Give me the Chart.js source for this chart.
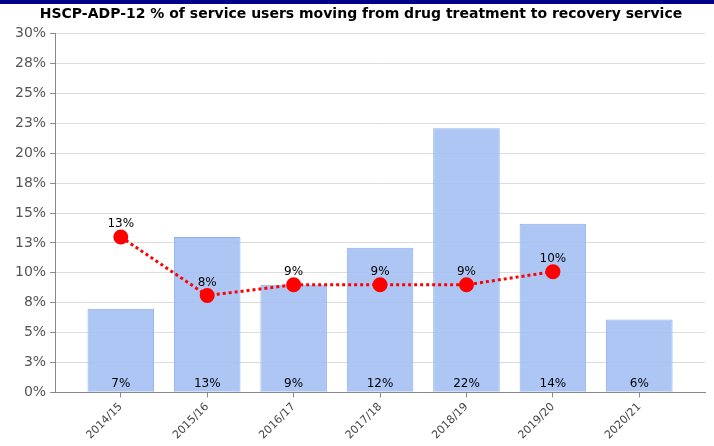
<!DOCTYPE html>
<html>
<head>
<meta charset="utf-8">
<script src="https://cdn.jsdelivr.net/npm/chart.js@4"></script>
<style>
    html, body { margin: 0; padding: 0; background: #fff; }
    #wrap { width: 714px; height: 446px; position: relative; border-top: 4px solid #00008b; box-sizing: border-box; }
</style>
</head>
<body>
<div id="wrap"><canvas id="canvas" width="714" height="442"></canvas></div>
<script>
// dane
const chartTitle = 'HSCP-ADP-12 % of service users moving from drug treatment to recovery service';
const years = ['2014/15', '2015/16', '2016/17', '2017/18', '2018/19', '2019/20', '2020/21'];
const barValues = [7, 13, 9, 12.1, 22.1, 14.1, 6.1];
const barLabels = ['7%', '13%', '9%', '12%', '22%', '14%', '6%'];
const lineValues = [13, 8.1, 9, 9, 9, 10.1, null];
const lineLabels = ['13%', '8%', '9%', '9%', '9%', '10%', ''];

const font = "'DejaVu Sans', Verdana, sans-serif";

// etykiety wartosci rysowane recznie (brak pluginu datalabels)
const valueLabels = {
    id: 'valueLabels',
    afterDatasetsDraw(chart) {
        let ctx = chart.ctx;
        let yScale = chart.scales.y;
        ctx.save();
        ctx.font = '12px ' + font;
        ctx.fillStyle = '#000';
        ctx.textAlign = 'center';
        ctx.textBaseline = 'bottom';
        chart.getDatasetMeta(0).data.forEach(function(bar, i) {
            ctx.fillText(barLabels[i], bar.x, yScale.bottom - 2);
        });
        chart.getDatasetMeta(1).data.forEach(function(pt, i) {
            if (lineValues[i] === null) return;
            ctx.fillText(lineLabels[i], pt.x, pt.y - 7);
        });
        ctx.restore();
    }
};

let canvas = document.getElementById('canvas');
let ctx = canvas.getContext('2d');

let config = {
    data: {
        datasets: [{
            type: 'bar',
            data: barValues.map(function(v, i) { return {x: i, y: v}; }),
            backgroundColor: 'rgba(164, 192, 243, 0.9)',
            borderColor: '#8fb1ef',
            borderWidth: 1,
            categoryPercentage: 1,
            barPercentage: 0.77,
            order: 2
        }, {
            type: 'line',
            data: lineValues.map(function(v, i) { return {x: i, y: v}; }),
            borderColor: '#ff0000',
            borderWidth: 3,
            borderDash: [3, 3],
            pointRadius: 6,
            pointBackgroundColor: '#ff0000',
            pointBorderColor: '#ff0000',
            spanGaps: false,
            tension: 0,
            order: 1
        }]
    },
    options: {
        responsive: false,
        animation: false,
        layout: { padding: { left: 11, right: 3, top: 0, bottom: 1 } },
        plugins: {
            legend: { display: false },
            tooltip: { enabled: false },
            title: {
                display: true,
                text: chartTitle,
                color: '#000',
                font: { family: font, size: 14, weight: 'bold' },
                padding: { top: 2, bottom: 11 }
            }
        },
        scales: {
            x: {
                type: 'linear',
                offset: false,
                min: -0.76,
                max: 6.76,
                afterBuildTicks: function(scale) {
                    scale.ticks = years.map(function(_, i) { return {value: i}; });
                },
                ticks: {
                    autoSkip: false,
                    minRotation: 45,
                    maxRotation: 45,
                    color: '#444',
                    font: { family: font, size: 11 },
                    callback: function(value) { return years[value]; }
                },
                grid: { offset: false, drawOnChartArea: false, drawTicks: true, tickLength: 5, color: '#888' },
                border: { color: '#888' }
            },
            y: {
                min: 0,
                max: 30,
                ticks: {
                    stepSize: 2.5,
                    color: '#555',
                    font: { family: font, size: 14 },
                    padding: 4,
                    callback: function(value) { return Math.round(value) + '%'; }
                },
                grid: { color: '#dcdcdc', tickLength: 5, tickColor: '#888' },
                border: { color: '#888' }
            }
        }
    },
    plugins: [valueLabels]
};

let chart = new Chart(ctx, config);
</script>
</body>
</html>
